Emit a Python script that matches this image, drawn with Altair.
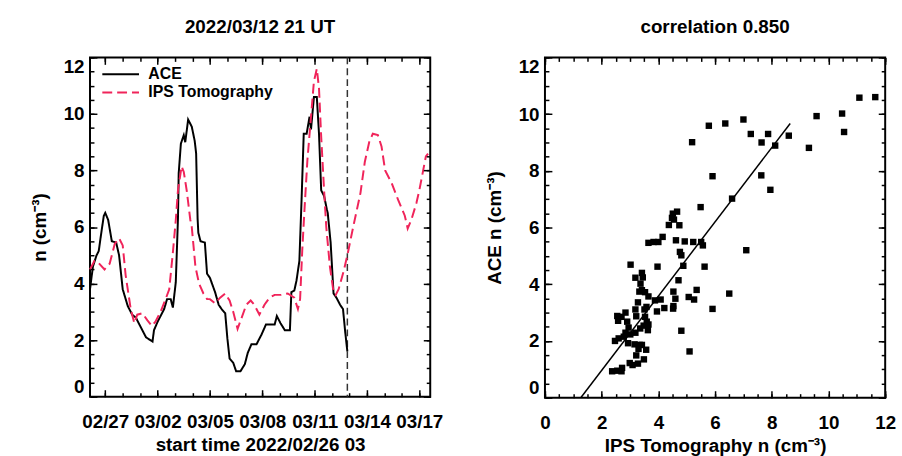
import altair as alt
import pandas as pd

# ---------------- time series (hours after 2022/02/26 03 UT, n in cm^-3) ----------------
START = "2022-02-26T03:00:00Z"
END_HOURS = 468        # right edge of the time axis
NOW_HOURS = 354        # 2022/03/12 21 UT

ACE_HOURS = [0, 4, 9, 12, 15, 19, 21, 25, 30, 36, 40, 45, 52, 58, 63, 70, 77, 86, 88, 93,
             102, 106, 111, 114, 118, 121, 122, 125, 129, 131, 135, 140, 144, 146, 148, 149,
             152, 158, 161, 165, 172, 177, 181, 186, 189, 192, 197, 201, 207, 213, 217, 222,
             229, 236, 242, 254, 257, 262, 268, 275, 277, 281, 284, 288, 291, 294, 298, 302,
             304, 308, 312, 315, 318, 322, 326, 327, 331, 335, 339, 344, 348, 351, 354]
ACE_N = [3.8, 4.6, 5.0, 5.15, 5.7, 6.4, 6.5, 6.25, 5.5, 5.45, 5.0, 3.8, 3.2, 2.9, 2.8, 2.45,
         2.1, 1.95, 2.35, 2.65, 3.1, 3.45, 3.45, 3.15, 4.05, 6.3, 7.9, 8.95, 9.25, 9.0, 9.8,
         9.55, 9.05, 8.6, 6.3, 5.8, 5.5, 5.45, 4.35, 4.2, 3.7, 3.25, 3.1, 2.95, 2.05, 1.35,
         1.2, 0.9, 0.9, 1.15, 1.55, 1.85, 1.85, 2.2, 2.55, 2.55, 2.85, 2.6, 2.35, 2.35, 3.7,
         3.75, 4.1, 4.8, 6.95, 9.3, 9.3, 9.9, 9.45, 10.6, 10.6, 9.3, 7.3, 7.1, 6.6, 6.5, 5.45,
         3.65, 3.5, 3.25, 3.1, 2.3, 1.6]

IPS_HOURS = [0, 6, 11, 20, 27, 34, 40, 45, 49, 56, 61, 65, 72, 79, 85, 90, 97, 104, 109, 114,
             118, 121, 126, 129, 133, 138, 140, 145, 150, 156, 161, 165, 172, 179, 186, 192,
             197, 203, 208, 215, 221, 226, 233, 240, 247, 254, 263, 272, 281, 286, 289, 292,
             295, 299, 304, 308, 312, 315, 318, 322, 325, 330, 335, 338, 342, 349, 354, 362,
             372, 378, 384, 389, 396, 401, 406, 415, 424, 433, 437, 442, 449, 453, 462, 465]
IPS_N = [4.5, 4.8, 4.75, 4.5, 4.7, 5.4, 5.6, 5.35, 4.3, 3.1, 2.6, 2.9, 2.95, 2.7, 2.5, 2.65,
         3.0, 3.45, 3.8, 5.1, 6.25, 7.3, 8.15, 7.95, 7.3, 6.25, 6.0, 4.6, 4.0, 3.65, 3.45,
         3.45, 3.3, 3.5, 3.65, 3.4, 3.0, 2.4, 2.75, 3.25, 3.4, 3.25, 2.9, 3.25, 3.5, 3.6, 3.6,
         3.65, 3.5, 3.1, 3.45, 5.2, 6.6, 8.35, 9.9, 11.15, 11.6, 10.9, 9.2, 7.3, 6.0, 4.6,
         3.7, 3.6, 3.8, 4.45, 5.0, 6.0, 7.2, 8.3, 9.0, 9.3, 9.25, 8.85, 8.0, 7.55, 6.95, 6.4,
         5.95, 6.25, 6.85, 7.3, 8.5, 8.6]

DATE_LABELS = ["2022-02-27", "2022-03-02", "2022-03-05", "2022-03-08",
               "2022-03-11", "2022-03-14", "2022-03-17"]

# ---------------- scatter: IPS tomography vs ACE ----------------
SCAT_IPS = [11.09, 11.65, 9.58, 10.48, 10.55, 9.31, 8.60, 8.12, 7.87, 7.64, 7.26, 7.00, 6.36,
            5.78, 5.19, 5.91, 7.63, 7.95, 6.60, 5.49, 4.66, 4.51, 4.48, 4.55, 4.37, 4.74, 4.15,
            3.65, 3.83, 4.00, 4.62, 4.93, 5.23, 5.51, 5.57, 4.76, 4.81, 7.10, 3.97, 3.02, 4.88,
            5.63, 3.42, 3.45, 3.19, 4.71, 3.37, 3.33, 3.42, 3.53, 3.65, 4.53, 5.35, 6.50, 4.08,
            4.60, 5.07, 5.26, 3.88, 3.28, 4.53, 4.52, 4.21, 3.95, 5.91, 3.58, 3.51, 3.19, 2.84,
            2.55, 2.70, 3.22, 3.53, 2.58, 2.90, 3.59, 3.65, 3.48, 2.95, 3.36, 3.63, 4.81, 3.19,
            2.84, 3.01, 2.78, 2.60, 2.47, 2.93, 3.16, 3.34, 3.42, 3.30, 3.57, 5.10, 3.22, 3.49,
            2.99, 3.09, 3.28, 2.37, 2.55, 2.70, 2.72]
SCAT_ACE = [10.58, 10.60, 9.93, 10.02, 9.37, 8.81, 9.24, 8.89, 9.30, 9.00, 9.30, 9.81, 9.67,
            9.59, 9.01, 7.81, 7.84, 7.33, 7.02, 6.72, 6.56, 6.49, 6.34, 6.28, 6.09, 6.08, 5.67,
            5.46, 5.49, 5.49, 5.55, 5.51, 5.49, 5.49, 5.37, 5.14, 5.02, 5.20, 4.62, 4.69, 4.65,
            4.62, 4.40, 4.24, 4.23, 4.14, 4.02, 3.74, 3.79, 3.72, 3.57, 3.74, 3.80, 3.67, 3.46,
            3.49, 3.55, 3.46, 3.43, 3.36, 3.23, 3.14, 3.16, 3.04, 3.13, 3.20, 3.11, 3.11, 3.00,
            2.88, 2.85, 2.87, 2.85, 2.71, 2.68, 2.68, 2.58, 2.54, 2.47, 2.44, 2.38, 2.36, 2.29,
            2.29, 2.23, 2.15, 2.09, 2.00, 1.92, 1.88, 1.86, 1.86, 1.72, 1.69, 1.63, 1.49, 1.35,
            1.22, 1.15, 1.20, 0.93, 0.95, 0.93, 1.05]
FIT_SLOPE = 1.31
FIT_INTERCEPT = -1.66
FIT_RANGE = [1.27, 8.65]
CORRELATION = 0.850

SERIES = ["ACE", "IPS Tomography"]
COLORS = ["black", "#F0245A"]
DASHES = [[1, 0], [10, 5]]

FONT = "Liberation Sans, Arial, sans-serif"
FS = 19

# ---------------- data tables ----------------
start = pd.Timestamp(START)


def iso(hours):
    return (start + pd.Timedelta(hours=hours)).strftime("%Y-%m-%dT%H:%M:%SZ")


def ms(ts):
    return int(pd.Timestamp(ts).timestamp() * 1000)


ts_df = pd.concat([
    pd.DataFrame({"t": [iso(h) for h in ACE_HOURS], "n": ACE_N, "series": SERIES[0]}),
    pd.DataFrame({"t": [iso(h) for h in IPS_HOURS], "n": IPS_N, "series": SERIES[1]}),
], ignore_index=True)
now_df = pd.DataFrame({"t": [iso(NOW_HOURS)]})

scat_df = pd.DataFrame({"ips": SCAT_IPS, "ace": SCAT_ACE})
fit_df = pd.DataFrame({"ips": FIT_RANGE,
                       "ace": [FIT_SLOPE * x + FIT_INTERCEPT for x in FIT_RANGE]})

# ---------------- scales and tick positions ----------------
t_lo = ms(start)
t_hi = ms(start + pd.Timedelta(hours=END_HOURS))
x_time = alt.Scale(type="utc", domain=[t_lo, t_hi])
n_scale = alt.Scale(domain=[0, 12], nice=False, zero=False)

major_days = [ms(d + "T00:00:00Z") for d in DATE_LABELS]
minor_days = [ms(d) for d in pd.date_range("2022-02-27", "2022-03-17", freq="D", tz="UTC")]
major_n = list(range(0, 13, 2))
minor_n = [i * 0.5 for i in range(0, 25)]

MAJ, MIN = 7, 4


def tick_axis(orient, values, size):
    # inward ticks: pull the axis inside the frame by its tick length
    return alt.Axis(orient=orient, values=values, labels=False, domain=False, grid=False,
                    ticks=True, tickSize=size, tickWidth=1.5, tickColor="black",
                    offset=-size, zindex=3)


def label_axis(orient, values, pad, tpad, flush, **kw):
    return alt.Axis(orient=orient, values=values, ticks=False, domain=False, grid=False,
                    labelPadding=pad, titlePadding=tpad, labelFlush=flush,
                    labelOverlap=False, zindex=3, **kw)


def frame_layers(data, xf, xtype, xscale, xvals, yf, yscale, yvals, xtitle, ytitle,
                 xlab_kw, ytpad):
    xmaj, xmin = xvals
    ymaj, ymin = yvals
    specs = [
        (label_axis("bottom", xmaj, 16, 4, False, **xlab_kw),
         label_axis("left", ymaj, 6, ytpad, True), xtitle, ytitle),
        (tick_axis("bottom", xmaj, MAJ), tick_axis("left", ymaj, MAJ), None, None),
        (tick_axis("bottom", xmin, MIN), tick_axis("left", ymin, MIN), None, None),
        (tick_axis("top", xmaj, MAJ), tick_axis("right", ymaj, MAJ), None, None),
        (tick_axis("top", xmin, MIN), tick_axis("right", ymin, MIN), None, None),
    ]
    out = []
    for xa, ya, xt, yt in specs:
        out.append(
            alt.Chart(data).mark_point(opacity=0).encode(
                x=alt.X(xf, type=xtype, scale=xscale, axis=xa, title=xt),
                y=alt.Y(yf, type="quantitative", scale=yscale, axis=ya, title=yt),
            )
        )
    return out


# ---------------- left panel: time series ----------------
# a long horizontal stroke as the legend swatch, kept short in the row layout
legend = alt.Legend(title=None, orient="none", legendX=23, legendY=9, symbolType="M-4,0H4",
                    symbolSize=86, symbolStrokeWidth=2, labelFont=FONT, labelFontSize=16,
                    labelFontWeight="bold", labelOffset=20, rowPadding=2.5)

lines = alt.Chart(ts_df).mark_line(strokeWidth=2).encode(
    x=alt.X("t:T", scale=x_time, axis=None),
    y=alt.Y("n:Q", scale=n_scale, axis=None),
    color=alt.Color("series:N", scale=alt.Scale(domain=SERIES, range=COLORS), legend=legend),
    strokeDash=alt.StrokeDash("series:N", scale=alt.Scale(domain=SERIES, range=DASHES),
                              legend=legend),
)

now_rule = alt.Chart(now_df).mark_rule(color="#333333", strokeDash=[7, 4], strokeWidth=1.5).encode(
    x=alt.X("t:T", scale=x_time, axis=None)
)

left_frame = frame_layers(
    ts_df, "t", "temporal", x_time, (major_days, minor_days), "n", n_scale,
    (major_n, minor_n), "start time 2022/02/26 03", "n (cm\u207b\u00b3)",
    {"labelExpr": "utcFormat(datum.value, '%m/%d')"}, 14,
)

left = alt.layer(*left_frame, now_rule, lines).resolve_axis(
    x="independent", y="independent"
).properties(
    width=344, height=343, title="2022/03/12 21 UT"
)

# ---------------- right panel: scatter ----------------
ips_scale = alt.Scale(domain=[0, 12], nice=False, zero=False)
ace_scale = alt.Scale(domain=[0, 12], nice=False, zero=False)

points = alt.Chart(scat_df).mark_square(size=42, color="black", opacity=1).encode(
    x=alt.X("ips:Q", scale=ips_scale, axis=None),
    y=alt.Y("ace:Q", scale=ace_scale, axis=None),
)
fit = alt.Chart(fit_df).mark_line(color="black", strokeWidth=1.5).encode(
    x=alt.X("ips:Q", scale=ips_scale, axis=None),
    y=alt.Y("ace:Q", scale=ace_scale, axis=None),
)

right_frame = frame_layers(
    scat_df, "ips", "quantitative", ips_scale, (major_n, minor_n), "ace", ace_scale,
    (major_n, minor_n), "IPS Tomography n (cm\u207b\u00b3)", "ACE n (cm\u207b\u00b3)",
    {}, 14,
)

right = alt.layer(*right_frame, fit, points).resolve_axis(
    x="independent", y="independent"
).properties(
    width=344, height=344, title=f"correlation {CORRELATION:.3f}"
)

chart = alt.hconcat(left, right, spacing=40).properties(
    padding={"left": 29, "top": 14.5, "right": 5, "bottom": 2}
).configure_view(
    stroke="black", strokeWidth=2
).configure_axis(
    labelFont=FONT, labelFontSize=FS, labelFontWeight="bold", labelColor="black",
    titleFont=FONT, titleFontSize=FS, titleFontWeight="bold", titleColor="black",
).configure_title(
    font=FONT, fontSize=FS, fontWeight="bold", color="black", offset=19.5, anchor="middle"
).configure_legend(
    labelColor="black"
)

chart.save("out.html", embed_options={"renderer": "svg", "actions": False})
